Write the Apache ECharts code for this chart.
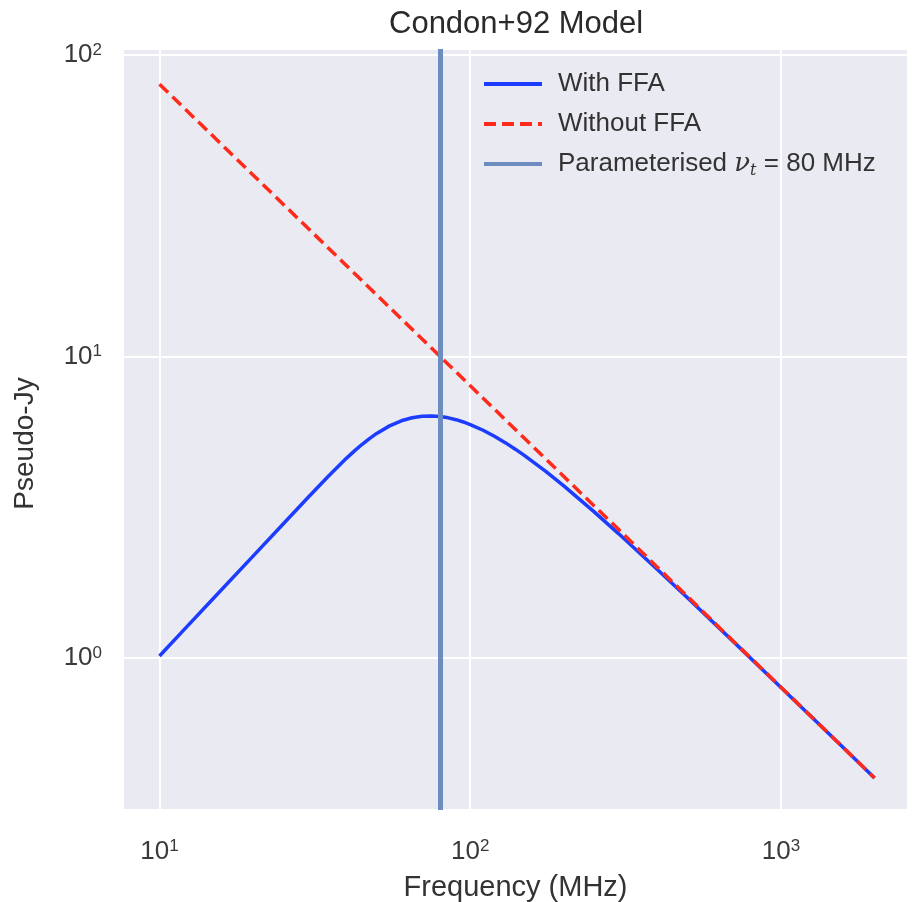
<!DOCTYPE html>
<html>
<head>
<meta charset="utf-8">
<script src="https://cdn.jsdelivr.net/npm/echarts@6/dist/echarts.min.js"></script>
<style>
html,body{margin:0;padding:0;background:#fff;}
#chart{width:912px;height:902px;}
</style>
</head>
<body>
<div id="chart"></div>
<script>
// Frequencies (MHz)
const freq = [10, 12, 15, 20, 25, 30, 35, 40, 42.5, 45, 47.5, 50, 55, 60, 65, 70, 75, 80, 85, 90, 95, 100, 110, 120, 130, 140, 150, 175, 200, 250, 300, 400, 500, 700, 1000, 1500, 2000];
// Pseudo-Jy, with free-free absorption
const withFFA = [1.015, 1.241, 1.586, 2.176, 2.78, 3.398, 4.014, 4.601, 4.872, 5.123, 5.352, 5.555, 5.885, 6.118, 6.263, 6.336, 6.351, 6.321, 6.258, 6.17, 6.064, 5.946, 5.691, 5.427, 5.168, 4.917, 4.681, 4.157, 3.72, 3.058, 2.585, 1.966, 1.583, 1.137, 0.798, 0.533, 0.400];
// Pseudo-Jy, without free-free absorption
const withoutFFA = [80, 66.67, 53.33, 40, 32, 26.67, 22.86, 20, 18.82, 17.78, 16.84, 16, 14.55, 13.33, 12.31, 11.43, 10.67, 10, 9.41, 8.89, 8.42, 8, 7.27, 6.67, 6.15, 5.71, 5.33, 4.57, 4, 3.2, 2.67, 2, 1.6, 1.14, 0.8, 0.533, 0.4];
// Turnover frequency (MHz)
const nuT = 80;
const seriesNames = ['With FFA', 'Without FFA', 'Parameterised νt = 80 MHz'];
const titleText = 'Condon+92 Model';
const xName = 'Frequency (MHz)';
const yName = 'Pseudo-Jy';

const FONT = "'Liberation Sans', Arial, sans-serif";
function pow10Label(v) {
  const e = Math.log10(v);
  const r = Math.round(e);
  if (Math.abs(e - r) > 1e-6) return '';
  return '10{sup|' + r + '}';
}
const tickRich = {
  sup: { fontSize: 17, verticalAlign: 'top', color: '#3a3a3a', fontFamily: FONT, padding: [0, 0, 10, 0] }
};

const chart = echarts.init(document.getElementById('chart'), null, { renderer: 'canvas' });
chart.setOption({
  backgroundColor: '#ffffff',
  animation: false,
  title: {
    text: titleText,
    left: 384,
    top: 4,
    textStyle: { fontFamily: FONT, fontSize: 31, fontWeight: 'normal', color: '#2a2a2a' }
  },
  legend: {
    orient: 'vertical',
    left: 482,
    top: 69,
    padding: 0,
    itemWidth: 58,
    itemHeight: 14,
    itemGap: 10,
    data: seriesNames,
    itemStyle: { opacity: 0 },
    lineStyle: { width: 4 },
    formatter: function (name) {
      if (name === seriesNames[2]) return 'Parameterised {nu|ν}{sub|t} = 80 MHz';
      return name;
    },
    textStyle: {
      fontFamily: FONT, fontSize: 26, color: '#333', padding: [0, 0, 0, 11], lineHeight: 30,
      rich: {
        nu: { fontFamily: "'DejaVu Serif', serif", fontStyle: 'italic', fontSize: 26, color: '#333' },
        sub: { fontFamily: "'DejaVu Serif', serif", fontStyle: 'italic', fontSize: 16, color: '#333', verticalAlign: 'bottom', padding: [10, 0, 0, 0] }
      }
    }
  },
  grid: {
    left: 123, right: 4, top: 49, bottom: 92,
    outerBoundsMode: 'none',
    containLabel: false,
    show: true, backgroundColor: '#EAEAF2', borderWidth: 0
  },
  xAxis: {
    type: 'log',
    logBase: 10,
    min: 7.63,
    max: 2563,
    name: xName,
    nameLocation: 'middle',
    nameGap: 63,
    nameTextStyle: { fontFamily: FONT, fontSize: 29, color: '#333' },
    axisLine: { show: false },
    axisTick: { show: false },
    minorTick: { show: false },
    axisLabel: {
      showMinLabel: false, showMaxLabel: false,
      margin: 28,
      fontFamily: FONT, fontSize: 26, color: '#3a3a3a',
      formatter: pow10Label,
      rich: tickRich
    },
    splitLine: { show: true, lineStyle: { color: '#ffffff', width: 2 } }
  },
  yAxis: {
    type: 'log',
    logBase: 10,
    min: 0.313,
    max: 104.7,
    name: yName,
    nameLocation: 'middle',
    nameGap: 84,
    nameTextStyle: { fontFamily: FONT, fontSize: 28, color: '#333', padding: [0, 28, 0, 0] },
    axisLine: { show: false },
    axisTick: { show: false },
    minorTick: { show: false },
    axisLabel: {
      showMinLabel: false, showMaxLabel: false,
      margin: 21,
      fontFamily: FONT, fontSize: 26, color: '#3a3a3a',
      formatter: pow10Label,
      rich: tickRich
    },
    splitLine: { show: true, lineStyle: { color: '#ffffff', width: 2 } }
  },
  series: [
    {
      name: seriesNames[0],
      type: 'line',
      data: freq.map((f, i) => [f, withFFA[i]]),
      showSymbol: false,
      symbol: 'none',
      smooth: false,
      color: '#1c3cff',
      lineStyle: { color: '#1c3cff', width: 3.5 },
      z: 3
    },
    {
      name: seriesNames[1],
      type: 'line',
      data: freq.map((f, i) => [f, withoutFFA[i]]),
      showSymbol: false,
      symbol: 'none',
      color: '#ff2a1a',
      lineStyle: { color: '#ff2a1a', width: 3.5, type: [12, 6] },
      z: 4
    },
    {
      name: seriesNames[2],
      type: 'line',
      data: [],
      symbol: 'none',
      color: '#6d8dc1',
      lineStyle: { color: '#6d8dc1', width: 4 },
      markLine: {
        silent: true,
        symbol: ['none', 'none'],
        label: { show: false },
        lineStyle: { color: '#6d8dc1', width: 5, type: 'solid' },
        data: [{ xAxis: nuT }]
      },
      z: 2
    }
  ]
});
</script>
</body>
</html>
